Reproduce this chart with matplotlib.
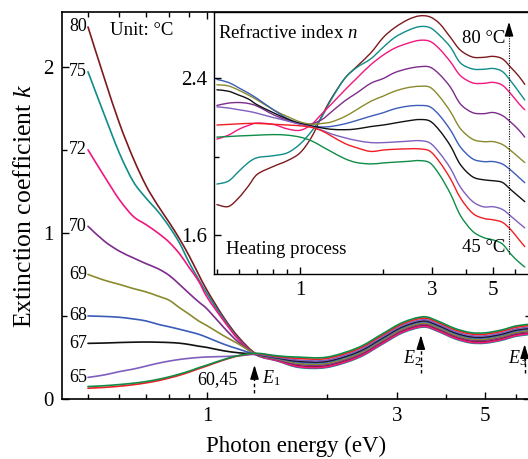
import numpy as np
import matplotlib
matplotlib.use('Agg')
import matplotlib.pyplot as plt
from matplotlib.path import Path
from matplotlib.patches import PathPatch
from matplotlib.ticker import FixedLocator, FixedFormatter, NullFormatter

plt.rcParams['font.family'] = ['Liberation Serif', 'DejaVu Serif']
plt.rcParams['mathtext.fontset'] = 'custom'
plt.rcParams['mathtext.rm'] = 'Liberation Serif'
plt.rcParams['mathtext.it'] = 'Liberation Serif:italic'

# 温度 (°C) 和颜色
temps = ['80', '75', '72', '70', '69', '68', '67', '65', '60', '45']
colors = ['#7d1a1e', '#108c8a', '#f2167f', '#7d2c8c', '#8a8a2e', '#3b5cb8',
          '#111111', '#7e5fbd', '#f01e24', '#0f8c48']

# 消光系数 k
energy_k = [0.5, 0.55, 0.6, 0.65, 0.7, 0.75, 0.8, 0.85, 0.9, 0.95, 1.0, 1.1, 1.2, 1.33,
            1.5, 1.7, 2.0, 2.4, 2.75, 3.1, 3.5, 3.8, 4.2, 4.6, 5.0, 5.5, 6.0, 6.5]
k_80 = [2.24, 1.93, 1.66, 1.45, 1.285, 1.165, 1.065, 0.965, 0.86, 0.75, 0.65, 0.49, 0.37, 0.27,
        0.234, 0.20, 0.20, 0.258, 0.338, 0.408, 0.443, 0.418, 0.373, 0.348, 0.346, 0.363, 0.388, 0.398]
k_75 = [1.97, 1.71, 1.48, 1.31, 1.21, 1.13, 1.04, 0.94, 0.82, 0.72, 0.63, 0.48, 0.36, 0.265,
        0.229, 0.19, 0.19, 0.248, 0.328, 0.398, 0.433, 0.408, 0.363, 0.338, 0.336, 0.353, 0.378, 0.388]
k_72 = [1.50, 1.34, 1.20, 1.10, 1.05, 1.00, 0.945, 0.875, 0.79, 0.71, 0.61, 0.47, 0.355, 0.265,
        0.231, 0.194, 0.194, 0.252, 0.332, 0.402, 0.437, 0.412, 0.367, 0.342, 0.34, 0.357, 0.382, 0.392]
k_70 = [1.04, 0.95, 0.89, 0.85, 0.815, 0.785, 0.745, 0.69, 0.635, 0.585, 0.54, 0.43, 0.34, 0.268,
        0.238, 0.208, 0.208, 0.266, 0.346, 0.416, 0.451, 0.426, 0.381, 0.356, 0.354, 0.371, 0.396, 0.406]
k_69 = [0.75, 0.715, 0.69, 0.665, 0.645, 0.62, 0.595, 0.55, 0.51, 0.47, 0.44, 0.38, 0.33, 0.268,
        0.241, 0.214, 0.214, 0.272, 0.352, 0.422, 0.457, 0.432, 0.387, 0.362, 0.36, 0.377, 0.402, 0.412]
k_68 = [0.50, 0.497, 0.492, 0.482, 0.47, 0.45, 0.435, 0.42, 0.405, 0.39, 0.37, 0.33, 0.30, 0.268,
        0.245, 0.222, 0.222, 0.28, 0.36, 0.43, 0.465, 0.44, 0.395, 0.37, 0.368, 0.385, 0.41, 0.42]
k_67 = [0.335, 0.337, 0.34, 0.342, 0.343, 0.342, 0.34, 0.336, 0.328, 0.318, 0.31, 0.29, 0.278, 0.268,
        0.248, 0.228, 0.228, 0.286, 0.366, 0.436, 0.471, 0.446, 0.401, 0.376, 0.374, 0.391, 0.416, 0.426]
k_65 = [0.13, 0.145, 0.165, 0.18, 0.198, 0.215, 0.228, 0.238, 0.245, 0.25, 0.253, 0.256, 0.26, 0.268,
        0.251, 0.234, 0.234, 0.292, 0.372, 0.442, 0.477, 0.452, 0.407, 0.382, 0.38, 0.397, 0.422, 0.432]
k_60 = [0.065, 0.07, 0.077, 0.086, 0.097, 0.11, 0.126, 0.143, 0.162, 0.182, 0.2, 0.235, 0.26, 0.273,
        0.256, 0.244, 0.244, 0.302, 0.382, 0.452, 0.487, 0.462, 0.417, 0.392, 0.39, 0.407, 0.432, 0.442]
k_45 = [0.075, 0.08, 0.087, 0.095, 0.105, 0.118, 0.133, 0.15, 0.168, 0.188, 0.205, 0.238, 0.262, 0.275,
        0.26, 0.252, 0.252, 0.31, 0.39, 0.46, 0.495, 0.47, 0.425, 0.40, 0.398, 0.415, 0.44, 0.45]

# 折射率 n (插图)
energy_n = [0.5, 0.55, 0.6, 0.65, 0.7, 0.8, 0.9, 1.0, 1.1, 1.2, 1.3, 1.45, 1.6, 1.8, 2.0,
            2.2, 2.45, 2.7, 2.95, 3.2, 3.5, 3.8, 4.2, 4.6, 5.0, 5.4, 5.8, 6.2, 6.5]
n_80 = [1.755, 1.745, 1.79, 1.85, 1.91, 1.95, 1.98, 2.02, 2.10, 2.21, 2.30, 2.40, 2.46, 2.53, 2.61,
        2.66, 2.70, 2.72, 2.715, 2.68, 2.61, 2.545, 2.51, 2.508, 2.513, 2.50, 2.455, 2.41, 2.37]
n_75 = [1.86, 1.875, 1.925, 1.97, 1.995, 2.005, 2.02, 2.065, 2.13, 2.205, 2.295, 2.40, 2.455, 2.50, 2.56,
        2.61, 2.645, 2.665, 2.66, 2.62, 2.56, 2.48, 2.449, 2.447, 2.451, 2.435, 2.385, 2.33, 2.29]
n_72 = [2.09, 2.11, 2.14, 2.16, 2.172, 2.165, 2.142, 2.135, 2.165, 2.22, 2.27, 2.34, 2.40, 2.47, 2.52,
        2.555, 2.58, 2.595, 2.59, 2.55, 2.485, 2.415, 2.378, 2.375, 2.38, 2.365, 2.32, 2.27, 2.24]
n_70 = [2.262, 2.274, 2.277, 2.272, 2.258, 2.215, 2.185, 2.168, 2.168, 2.19, 2.23, 2.285, 2.325, 2.375, 2.40,
        2.43, 2.45, 2.46, 2.458, 2.42, 2.355, 2.27, 2.226, 2.22, 2.226, 2.21, 2.175, 2.135, 2.10]
n_69 = [2.368, 2.362, 2.34, 2.315, 2.29, 2.24, 2.205, 2.178, 2.166, 2.17, 2.178, 2.205, 2.24, 2.283, 2.31,
        2.335, 2.353, 2.36, 2.355, 2.306, 2.23, 2.144, 2.09, 2.077, 2.077, 2.062, 2.03, 1.995, 1.97]
n_68 = [2.395, 2.38, 2.352, 2.325, 2.297, 2.24, 2.195, 2.17, 2.157, 2.152, 2.155, 2.168, 2.185, 2.207, 2.225,
        2.245, 2.258, 2.262, 2.255, 2.21, 2.136, 2.05, 1.99, 1.975, 1.975, 1.962, 1.93, 1.893, 1.867]
n_67 = [2.342, 2.335, 2.315, 2.295, 2.265, 2.225, 2.192, 2.17, 2.157, 2.147, 2.14, 2.138, 2.142, 2.154, 2.162,
        2.172, 2.183, 2.19, 2.182, 2.133, 2.055, 1.96, 1.898, 1.882, 1.877, 1.868, 1.83, 1.795, 1.77]
n_65 = [2.255, 2.249, 2.24, 2.232, 2.222, 2.20, 2.183, 2.165, 2.152, 2.135, 2.116, 2.097, 2.083, 2.072, 2.072,
        2.075, 2.079, 2.082, 2.07, 2.018, 1.94, 1.845, 1.772, 1.744, 1.744, 1.73, 1.695, 1.66, 1.636]
n_60 = [2.162, 2.165, 2.168, 2.17, 2.17, 2.166, 2.162, 2.158, 2.15, 2.132, 2.105, 2.068, 2.046, 2.027, 2.034,
        2.038, 2.04, 2.04, 2.028, 1.972, 1.887, 1.79, 1.712, 1.685, 1.677, 1.664, 1.625, 1.575, 1.54]
n_45 = [2.10, 2.103, 2.106, 2.108, 2.11, 2.113, 2.11, 2.10, 2.081, 2.052, 2.025, 1.99, 1.97, 1.963, 1.968,
        1.972, 1.976, 1.98, 1.968, 1.906, 1.81, 1.70, 1.62, 1.587, 1.574, 1.553, 1.50, 1.46, 1.436]

k_all = [k_80, k_75, k_72, k_70, k_69, k_68, k_67, k_65, k_60, k_45]
n_all = [n_80, n_75, n_72, n_70, n_69, n_68, n_67, n_65, n_60, n_45]


def smooth_line(axis, x, y, color, lw):
    # 平滑连线 (对数x轴下的贝塞尔曲线)
    lx = np.log10(x)
    y = np.asarray(y, dtype=float)
    n = len(x)
    verts = [(x[0], y[0])]
    codes = [Path.MOVETO]
    for i in range(n - 1):
        i0 = max(i - 1, 0)
        i3 = min(i + 2, n - 1)
        c1 = (10 ** (lx[i] + (lx[i + 1] - lx[i0]) / 6), y[i] + (y[i + 1] - y[i0]) / 6)
        c2 = (10 ** (lx[i + 1] - (lx[i3] - lx[i]) / 6), y[i + 1] - (y[i3] - y[i]) / 6)
        verts += [c1, c2, (x[i + 1], y[i + 1])]
        codes += [Path.CURVE4] * 3
    axis.add_patch(PathPatch(Path(verts, codes), fill=False, edgecolor=color, lw=lw,
                             capstyle='round', joinstyle='round'))


fig = plt.figure(figsize=(5.28, 4.59), dpi=100)
ax = fig.add_axes([62 / 528, 60 / 459, 468 / 528, 387 / 459])
ax.set_xscale('log')
ax.set_xlim(0.43, 6.5)
ax.set_ylim(0, 2.33)

for kk, c in zip(k_all, colors):
    smooth_line(ax, energy_k, kk, c, 1.2)

ax.xaxis.set_major_locator(FixedLocator([1, 3, 5]))
ax.xaxis.set_major_formatter(FixedFormatter(['1', '3', '5']))
ax.xaxis.set_minor_locator(FixedLocator([0.5, 0.6, 0.7, 0.8, 0.9, 2, 4, 6]))
ax.xaxis.set_minor_formatter(NullFormatter())
ax.yaxis.set_major_locator(FixedLocator([0, 1, 2]))
ax.yaxis.set_minor_locator(FixedLocator([0.5, 1.5]))
ax.tick_params(which='both', direction='in', top=True, right=True, width=1, labelsize=15, pad=6)
ax.tick_params(which='major', length=5)
ax.tick_params(which='minor', length=3.5)
for s in ax.spines.values():
    s.set_linewidth(1.2)
ax.set_xlabel('Photon energy (eV)', fontsize=16.5, labelpad=7)
ax.set_ylabel('Extinction coefficient $k$', fontsize=18.5, labelpad=5)

# 温度标签
for t, kk in zip(temps[:8], k_all[:8]):
    ax.text(0.497, kk[0], t, ha='right', va='center', fontsize=13)
ax.text(1.06, 0.115, '60,45', ha='center', va='center', fontsize=13)
ax.text(0.1026, 0.951, 'Unit: °C', transform=ax.transAxes, ha='left', va='center', fontsize=13.5)

# E1, E2, E3 箭头
for ex, ktip, kbot, lx, ly, lab in [(1.314, 0.205, 0.035, 1.37, 0.127, '$E_1$'),
                                    (3.45, 0.385, 0.157, 3.11, 0.247, '$E_2$'),
                                    (6.3, 0.33, 0.157, 5.72, 0.247, '$E_3$')]:
    ax.plot([ex, ex], [kbot, ktip - 0.03], color='k', lw=1, ls=(0, (2.5, 2)))
    ax.annotate('', xy=(ex, ktip), xytext=(ex, ktip - 0.065),
                arrowprops=dict(arrowstyle='-|>,head_length=0.85,head_width=0.26',
                                color='k', lw=1, shrinkA=0, shrinkB=0))
    ax.text(lx, ly, lab, ha='left', va='center', fontsize=13)

# 插图: 折射率
ins = fig.add_axes([214 / 528, 185 / 459, 316 / 528, 262 / 459])
ins.set_xscale('log')
ins.set_xlim(0.488, 6.79)
ins.set_ylim(1.40, 2.74)
for nn, c in zip(n_all, colors):
    smooth_line(ins, energy_n, nn, c, 1.0)

ins.xaxis.set_major_locator(FixedLocator([1, 3, 5]))
ins.xaxis.set_major_formatter(FixedFormatter(['1', '3', '5']))
ins.xaxis.set_minor_locator(FixedLocator([0.5, 0.6, 0.7, 0.8, 0.9, 2, 4, 6]))
ins.xaxis.set_minor_formatter(NullFormatter())
ins.yaxis.set_major_locator(FixedLocator([1.6, 2.4]))
ins.yaxis.set_major_formatter(FixedFormatter(['1.6', '2.4']))
ins.yaxis.set_minor_locator(FixedLocator([2.0]))
ins.tick_params(which='both', direction='in', width=1, labelsize=15, pad=5)
ins.tick_params(which='major', length=5)
ins.tick_params(which='minor', length=3.5)
for s in ins.spines.values():
    s.set_linewidth(1.0)

ins.text(0.013, 0.92, 'Refractive index $n$', transform=ins.transAxes, ha='left', va='center', fontsize=13.5)
ins.text(0.038, 0.095, 'Heating process', transform=ins.transAxes, ha='left', va='center', fontsize=13.5)
ins.text(0.921, 0.90, '80 °C', transform=ins.transAxes, ha='right', va='center', fontsize=13.5)
ins.text(0.921, 0.103, '45 °C', transform=ins.transAxes, ha='right', va='center', fontsize=13.5)
ins.plot([5.7, 5.7], [1.50, 2.64], color='k', lw=0.8, ls=(0, (1, 1.2)))
ins.annotate('', xy=(5.7, 2.69), xytext=(5.7, 2.62),
             arrowprops=dict(arrowstyle='-|>,head_length=0.85,head_width=0.26',
                             color='k', lw=1, shrinkA=0, shrinkB=0))

fig.savefig('out.png', dpi=100)
